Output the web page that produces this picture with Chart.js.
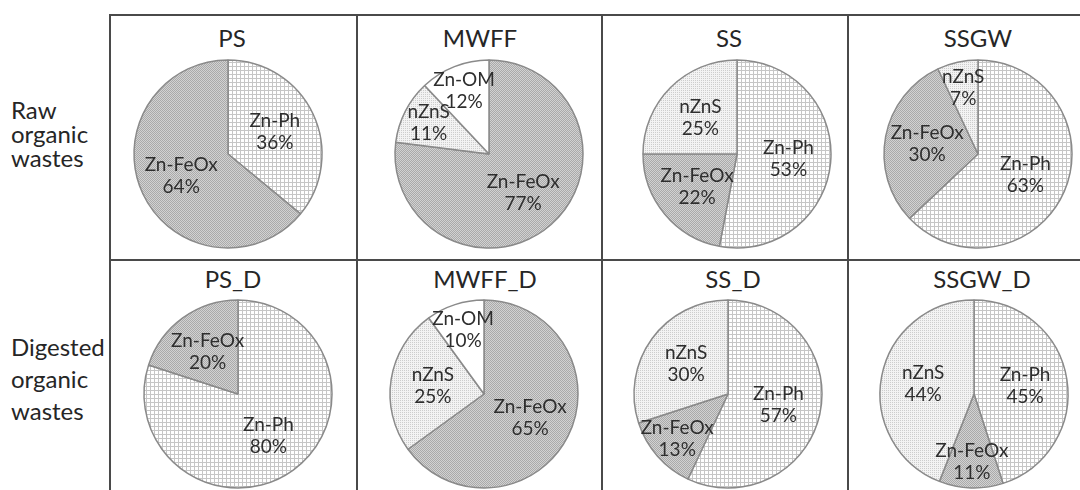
<!DOCTYPE html>
<html>
<head>
<meta charset="utf-8">
<script src="https://cdn.jsdelivr.net/npm/chart.js@4.4.1/dist/chart.umd.min.js"></script>
<style>
  body { margin: 0; background: #fff; }
  #wrap { position: relative; width: 1080px; height: 490px; overflow: hidden; font-family: Lato, sans-serif; color: #262626; }
  .line { position: absolute; background: #4a4a4a; }
  .rowlabel { position: absolute; left: 11px; font-size: 24px; }
  .title { position: absolute; width: 200px; text-align: center; font-size: 24px; line-height: 28px; }
  canvas { position: absolute; }
</style>
</head>
<body>
<div id="wrap"></div>
<script>
// sample names, one pie each (top row raw, bottom row digested)
const samples = ["PS", "MWFF", "SS", "SSGW", "PS_D", "MWFF_D", "SS_D", "SSGW_D"];
const rowNames = ["Raw\norganic\nwastes", "Digested\norganic\nwastes"];

// zinc species (%) in each pie, clockwise from 12 o'clock
const psLabels = ["Zn-Ph", "Zn-FeOx"];
const psValues = [36, 64];
const mwffLabels = ["Zn-FeOx", "nZnS", "Zn-OM"];
const mwffValues = [77, 11, 12];
const ssLabels = ["Zn-Ph", "Zn-FeOx", "nZnS"];
const ssValues = [53, 22, 25];
const ssgwLabels = ["Zn-Ph", "Zn-FeOx", "nZnS"];
const ssgwValues = [63, 30, 7];
const psDLabels = ["Zn-Ph", "Zn-FeOx"];
const psDValues = [80, 20];
const mwffDLabels = ["Zn-FeOx", "nZnS", "Zn-OM"];
const mwffDValues = [65, 25, 10];
const ssDLabels = ["Zn-Ph", "Zn-FeOx", "nZnS"];
const ssDValues = [57, 13, 30];
const ssgwDLabels = ["Zn-Ph", "Zn-FeOx", "nZnS"];
const ssgwDValues = [45, 11, 44];

const allLabels = [psLabels, mwffLabels, ssLabels, ssgwLabels, psDLabels, mwffDLabels, ssDLabels, ssgwDLabels];
const allValues = [psValues, mwffValues, ssValues, ssgwValues, psDValues, mwffDValues, ssDValues, ssgwDValues];

// layout (px)
const titleX = [232, 480, 729, 978, 233, 485, 733, 982];
const pieX = [228, 489, 737, 978, 238, 484, 728, 974];
const rowTitleY = [38, 279];
const rowPieY = [154, 394];
const rowLabelTop = [98, 331];
const rowLabelLine = [24, 32];
const RADIUS = 94;

const wrap = document.getElementById("wrap");

function addLine(l, t, w, h) {
  const d = document.createElement("div");
  d.className = "line";
  d.style.cssText = `left:${l}px;top:${t}px;width:${w}px;height:${h}px`;
  wrap.appendChild(d);
}
addLine(109, 14, 971, 2);
addLine(109, 259, 971, 2);
[109, 356, 601, 847].forEach(x => addLine(x, 14, 2, 476));

rowNames.forEach((txt, r) => {
  const d = document.createElement("div");
  d.className = "rowlabel";
  d.style.top = rowLabelTop[r] + "px";
  d.style.lineHeight = rowLabelLine[r] + "px";
  d.innerHTML = txt.split("\n").join("<br>");
  wrap.appendChild(d);
});

// fill patterns like the Excel ones
function pattern(kind) {
  const c = document.createElement("canvas");
  const g = c.getContext("2d");
  if (kind === "grid") {
    c.width = c.height = 4;
    g.fillStyle = "#ffffff"; g.fillRect(0, 0, 4, 4);
    g.fillStyle = "#c6c6c6"; g.fillRect(0, 0, 4, 1); g.fillRect(0, 0, 1, 4);
  } else if (kind === "dark") {
    c.width = c.height = 2;
    g.fillStyle = "#d2d2d2"; g.fillRect(0, 0, 2, 2);
    g.fillStyle = "#aaaaaa"; g.fillRect(0, 0, 1, 1); g.fillRect(1, 1, 1, 1);
  } else {
    c.width = c.height = 2;
    g.fillStyle = "#f3f3f3"; g.fillRect(0, 0, 2, 2);
    g.fillStyle = "#cdcdcd"; g.fillRect(0, 0, 1, 1);
  }
  return g.createPattern(c, "repeat");
}
const fills = {
  "Zn-Ph": pattern("grid"),
  "Zn-FeOx": pattern("dark"),
  "nZnS": pattern("light"),
  "Zn-OM": "#ffffff",
};

const sliceLabelPlugin = {
  id: "sliceLabels",
  afterDatasetsDraw(chart) {
    const ctx = chart.ctx;
    const ds = chart.data.datasets[0];
    ctx.save();
    ctx.font = "19px Lato";
    ctx.fillStyle = "#2e2e2e";
    ctx.textAlign = "center";
    ctx.textBaseline = "middle";
    chart.getDatasetMeta(0).data.forEach((arc, i) => {
      const p = arc.getProps(["x", "y", "startAngle", "endAngle", "outerRadius"], true);
      const mid = (p.startAngle + p.endAngle) / 2;
      const f = ds.data[i] < 15 ? 0.72 : 0.55;
      const lx = p.x + Math.cos(mid) * p.outerRadius * f;
      const ly = p.y + Math.sin(mid) * p.outerRadius * f;
      ctx.fillText(chart.data.labels[i], lx, ly - 11);
      ctx.fillText(ds.data[i] + "%", lx, ly + 11);
    });
    ctx.restore();
  },
};

samples.forEach((name, i) => {
  const row = i < 4 ? 0 : 1;
  const t = document.createElement("div");
  t.className = "title";
  t.textContent = name;
  t.style.left = (titleX[i] - 100) + "px";
  t.style.top = (rowTitleY[row] - 14) + "px";
  wrap.appendChild(t);

  const cv = document.createElement("canvas");
  cv.width = 200; cv.height = 200;
  cv.style.left = (pieX[i] - 100) + "px";
  cv.style.top = (rowPieY[row] - 100) + "px";
  wrap.appendChild(cv);

  new Chart(cv, {
    type: "pie",
    data: {
      labels: allLabels[i],
      datasets: [{
        data: allValues[i],
        backgroundColor: allLabels[i].map(l => fills[l]),
        borderColor: "#8a8a8a",
        borderWidth: 1.5,
      }],
    },
    options: {
      responsive: false,
      animation: false,
      radius: RADIUS,
      plugins: { legend: { display: false }, tooltip: { enabled: false } },
    },
    plugins: [sliceLabelPlugin],
  });
});
</script>
</body>
</html>
